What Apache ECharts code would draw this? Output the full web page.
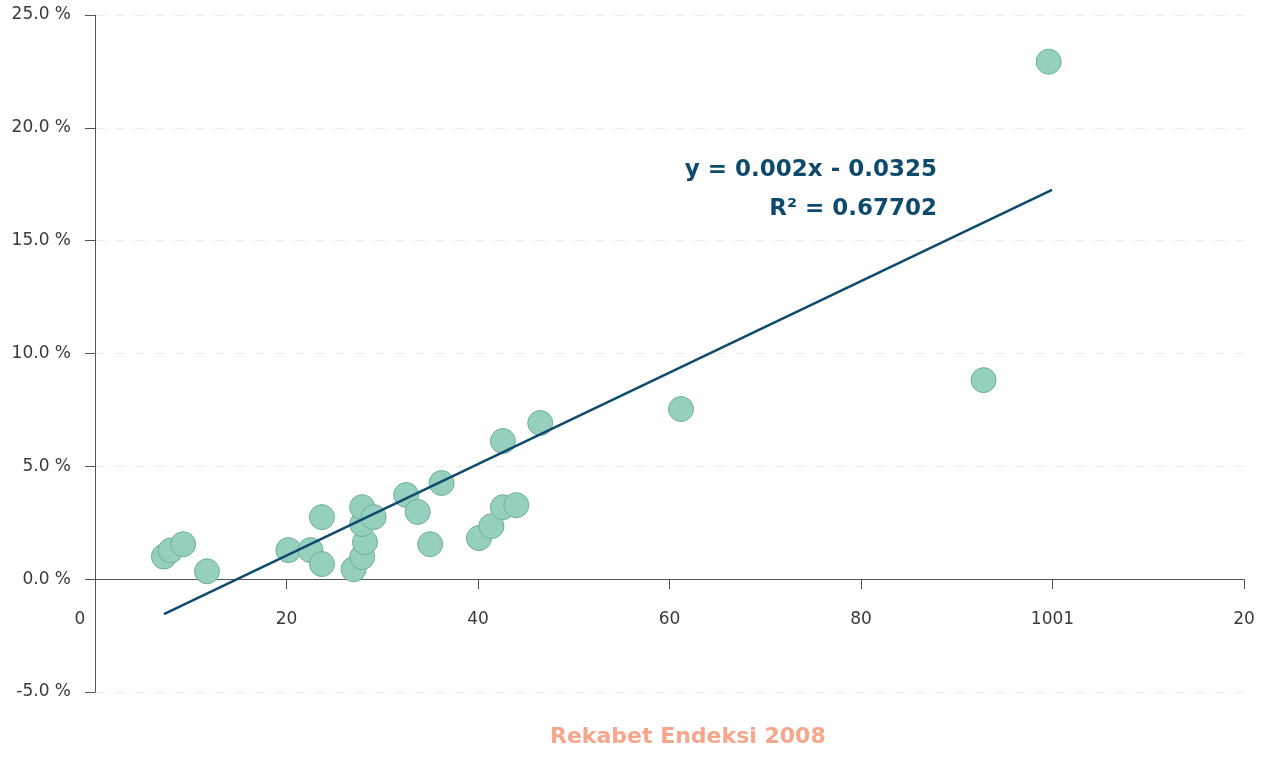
<!DOCTYPE html>
<html>
<head>
<meta charset="utf-8">
<script src="https://cdn.jsdelivr.net/npm/echarts@6/dist/echarts.min.js"></script>
<style>
  html, body { margin: 0; padding: 0; background: #fff; }
  #chart { width: 1283px; height: 758px; }
</style>
</head>
<body>
<div id="chart"></div>
<script>
// x: index value, y: percent
const pointsX = [7.2, 7.9, 9.2, 11.7, 20.2, 22.5, 23.7, 23.7, 27.0, 27.9, 28.2, 27.9, 27.9, 29.1,
  32.5, 33.7, 35.0, 36.2, 40.1, 41.4, 42.6, 42.6, 44.0, 46.5, 61.2, 92.8, 99.6]
const pointsY = [1.00, 1.27, 1.55, 0.35, 1.29, 1.29, 2.75, 0.67, 0.44, 0.98, 1.64, 2.44, 3.19, 2.75,
  3.73, 2.98, 1.55, 4.26, 1.82, 2.35, 3.19, 6.12, 3.28, 6.92, 7.54, 8.82, 22.93]
// trend line end points as drawn
const trendX = [7.2, 99.95]
const trendY = [-1.55, 17.25]
const xTickLabels = ['0', '20', '40', '60', '80', '1001', '20']
const equationText = 'y = 0.002x - 0.0325'
const r2Text = 'R² = 0.67702'
const titleText = 'Rekabet Endeksi 2008'

const chart = echarts.init(document.getElementById('chart'))

const labelColor = '#3a3a3a'
const axisColor = '#555'
const fontFamily = '"DejaVu Sans", sans-serif'

const scatterData = pointsX.map((x, i) => [x, pointsY[i]])
const trendData = trendX.map((x, i) => [x, trendY[i]])

const options = {
  animation: false,
  title: {
    text: titleText,
    left: 545,
    top: 721,
    textStyle: {
      color: '#f7a68c',
      fontSize: 22,
      fontWeight: 'bold',
      fontFamily: fontFamily
    }
  },
  grid: {
    left: 95,
    right: 39,
    top: 15,
    bottom: 66,
    containLabel: false
  },
  xAxis: {
    type: 'value',
    min: 0,
    max: 120,
    interval: 20,
    axisLine: {
      show: true,
      onZero: true,
      lineStyle: { color: axisColor, width: 1 }
    },
    axisTick: {
      show: true,
      length: 10,
      lineStyle: { color: axisColor }
    },
    axisLabel: {
      // labels stay at grid bottom, pull them up under the zero line
      margin: -81,
      color: labelColor,
      fontSize: 17,
      fontFamily: fontFamily,
      formatter: (value) => {
        const idx = Math.round(value / 20)
        const txt = xTickLabels[idx] || ''
        return idx === 0 ? '{first|' + txt + '}' : txt
      },
      rich: {
        first: {
          padding: [0, 30, 0, 0],
          color: labelColor,
          fontSize: 17,
          fontFamily: fontFamily
        }
      }
    },
    splitLine: { show: false }
  },
  yAxis: {
    type: 'value',
    min: -5,
    max: 25,
    interval: 5,
    axisLine: {
      show: true,
      onZero: false,
      lineStyle: { color: axisColor, width: 1 }
    },
    axisTick: {
      show: true,
      length: 10,
      lineStyle: { color: axisColor }
    },
    axisLabel: {
      margin: 24,
      color: labelColor,
      fontSize: 17,
      fontFamily: fontFamily,
      formatter: (value) => value.toFixed(1) + ' %'
    },
    splitLine: {
      show: true,
      lineStyle: {
        type: [10, 10],
        color: '#ececec'
      }
    }
  },
  graphic: [
    {
      type: 'text',
      right: 1283 - 937,
      top: 159,
      style: {
        text: equationText,
        fill: '#0e4a6b',
        font: 'bold 23px ' + fontFamily,
        textAlign: 'right'
      }
    },
    {
      type: 'text',
      right: 1283 - 937,
      top: 198,
      style: {
        text: r2Text,
        fill: '#0e4a6b',
        font: 'bold 23px ' + fontFamily,
        textAlign: 'right'
      }
    }
  ],
  series: [
    {
      type: 'scatter',
      data: scatterData,
      symbol: 'circle',
      symbolSize: 25,
      itemStyle: {
        color: '#95d0bf',
        borderColor: '#6fae9b',
        borderWidth: 1,
        opacity: 1
      },
      z: 2
    },
    {
      type: 'line',
      data: trendData,
      symbol: 'none',
      lineStyle: {
        color: '#0e4a6b',
        width: 2.5
      },
      z: 3
    }
  ]
}

chart.setOption(options)
</script>
</body>
</html>
